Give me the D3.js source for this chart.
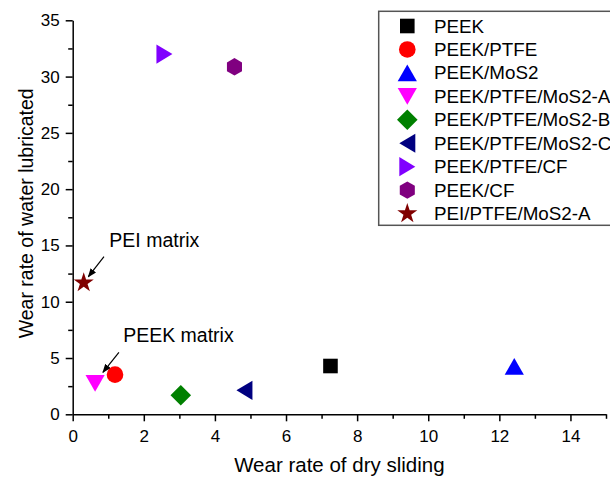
<!DOCTYPE html>
<html>
<head>
    <meta charset="utf-8">
    <title>Wear rate scatter</title>
    <script src="https://d3js.org/d3.v7.min.js"></script>
    <style>
        body { margin: 0; background: #fff; }
        text { font-family: "Liberation Sans", Arial, sans-serif; fill: #000; }
    </style>
</head>
<body>
    <svg id="chart" width="610" height="477"></svg>
    <script>
        // materials and their wear rates
        const names = ["PEEK", "PEEK/PTFE", "PEEK/MoS2", "PEEK/PTFE/MoS2-A", "PEEK/PTFE/MoS2-B",
            "PEEK/PTFE/MoS2-C", "PEEK/PTFE/CF", "PEEK/CF", "PEI/PTFE/MoS2-A"];
        const dryWear = [7.25, 1.19, 12.42, 0.63, 3.04, 4.83, 2.58, 4.55, 0.31];
        const waterWear = [4.29, 3.52, 4.26, 2.75, 1.69, 2.13, 32.0, 30.87, 11.68];
        const colors = ["#000000", "#ff0000", "#0000ff", "#ff00ff", "#008000", "#000080", "#8000ff", "#800080", "#800000"];
        const shapes = ["square", "circle", "up", "down", "diamond", "left", "right", "hexagon", "star"];

        const xTicks = [0, 2, 4, 6, 8, 10, 12, 14];
        const xMinor = [1, 3, 5, 7, 9, 11, 13, 15];
        const yTicks = [0, 5, 10, 15, 20, 25, 30, 35];
        const yMinor = [2.5, 7.5, 12.5, 17.5, 22.5, 27.5, 32.5];

        // annotations: label, text position, arrow start, arrow end (data units)
        const notes = [
            { label: "PEI matrix", tx: 1.03, ty: 14.88, x1: 0.88, y1: 14.0, x2: 0.44, y2: 12.22 },
            { label: "PEEK matrix", tx: 1.42, ty: 6.39, x1: 1.30, y1: 5.5, x2: 0.85, y2: 3.73 }
        ];

        const svg = d3.select("#chart");
        const x = d3.scaleLinear().domain([0, 15]).range([72.7, 606]);
        const y = d3.scaleLinear().domain([0, 35]).range([414.3, 20.3]);

        // marker path generator, centred on 0,0
        function marker(type) {
            switch (type) {
                case "square": return "M-7.3,-7.3H7.3V7.3H-7.3Z";
                case "circle": return d3.symbol(d3.symbolCircle, Math.PI * 8.3 * 8.3)();
                case "up": return "M0,-8.3L9.6,8.3L-9.6,8.3Z";
                case "down": return "M0,8.3L9.6,-8.3L-9.6,-8.3Z";
                case "diamond": return "M0,-10.3L10.3,0L0,10.3L-10.3,0Z";
                case "left": return "M-8,0L8,-9.6L8,9.6Z";
                case "right": return "M8,0L-8,-9.6L-8,9.6Z";
                case "hexagon": {
                    const r = 8.7;
                    return d3.range(6).map((i, k) => {
                        const a = Math.PI / 3 * i - Math.PI / 2;
                        return (k ? "L" : "M") + (r * Math.cos(a)).toFixed(2) + "," + (r * Math.sin(a)).toFixed(2);
                    }).join("") + "Z";
                }
                case "star": return d3.symbol(d3.symbolStar, 125)();
            }
        }

        // axes
        svg.append("g").attr("transform", `translate(0,${y(0)})`)
            .call(d3.axisBottom(x).tickValues(xTicks).tickSize(7).tickSizeOuter(0).tickPadding(8.7));
        svg.append("g").attr("transform", `translate(0,${y(0)})`)
            .call(d3.axisBottom(x).tickValues(xMinor).tickSize(4.5).tickFormat(""))
            .call(g => g.select(".domain").remove());
        svg.append("g").attr("transform", `translate(${x(0)},0)`)
            .call(d3.axisLeft(y).tickValues(yTicks).tickSize(7).tickSizeOuter(0).tickPadding(6));
        svg.append("g").attr("transform", `translate(${x(0)},0)`)
            .call(d3.axisLeft(y).tickValues(yMinor).tickSize(4.5).tickFormat(""))
            .call(g => g.select(".domain").remove());

        svg.selectAll(".tick line, .domain").attr("stroke", "#000").attr("stroke-width", 1.5);
        svg.selectAll(".tick text").attr("font-size", 17).attr("fill", "#000");

        // axis titles
        svg.append("text").attr("x", (x(0) + x(15)) / 2).attr("y", 472)
            .attr("text-anchor", "middle").attr("font-size", 20.5).text("Wear rate of dry sliding");
        svg.append("text").attr("transform", `translate(33,${(y(0) + y(35)) / 2 - 4}) rotate(-90)`)
            .attr("text-anchor", "middle").attr("font-size", 19.5).text("Wear rate of water lubricated");

        // points
        svg.append("g").selectAll("path")
            .data(names)
            .join("path")
            .attr("d", (d, i) => marker(shapes[i]))
            .attr("transform", (d, i) => `translate(${x(dryWear[i])},${y(waterWear[i])})`)
            .attr("fill", (d, i) => colors[i]);

        // annotations
        svg.append("defs").append("marker")
            .attr("id", "head").attr("viewBox", "0 0 10 10").attr("refX", 9).attr("refY", 5)
            .attr("markerWidth", 9).attr("markerHeight", 7).attr("markerUnits", "userSpaceOnUse")
            .attr("orient", "auto")
            .attr("preserveAspectRatio", "none")
            .append("path").attr("d", "M0,0L10,5L0,10Z").attr("fill", "#000");
        const ann = svg.append("g");
        notes.forEach(n => {
            ann.append("text").attr("x", x(n.tx)).attr("y", y(n.ty)).attr("font-size", 19.5).text(n.label);
            ann.append("line").attr("x1", x(n.x1)).attr("y1", y(n.y1)).attr("x2", x(n.x2)).attr("y2", y(n.y2))
                .attr("stroke", "#000").attr("stroke-width", 1.2).attr("marker-end", "url(#head)");
        });

        // legend
        const leg = svg.append("g");
        leg.append("rect").attr("x", 378.7).attr("y", 11.3).attr("width", 260).attr("height", 214)
            .attr("fill", "#fff").attr("stroke", "#555").attr("stroke-width", 1.5);
        const rows = leg.selectAll("g.row").data(names).join("g")
            .attr("transform", (d, i) => `translate(407.3,${26 + i * 23.45})`);
        rows.append("path").attr("d", (d, i) => marker(shapes[i])).attr("fill", (d, i) => colors[i]);
        rows.append("text").attr("x", 26.7).attr("y", 6.5).attr("font-size", 18.8).text(d => d);
    </script>
</body>
</html>
